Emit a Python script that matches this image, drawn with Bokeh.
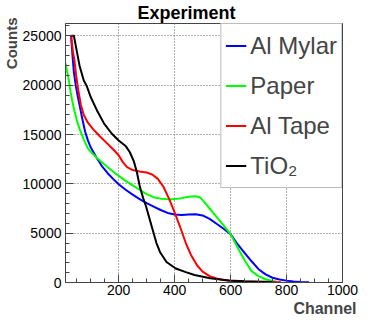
from bokeh.plotting import figure
from bokeh.models import Range1d, FixedTicker, Title
from bokeh.embed import file_html
from bokeh.resources import INLINE

# ---- data ----
mylar_x = [30, 35, 40, 47, 55, 60, 70, 80, 90, 100, 120, 140, 160, 180, 200, 225, 250, 275, 300,
           325, 350, 375, 400, 425, 450, 475, 500, 525, 550, 575, 600, 625, 650, 675, 700, 725,
           750, 775, 800, 825, 850, 880]
mylar_y = [25000, 23000, 21300, 19900, 18700, 18000, 16600, 15300, 14400, 13700, 12700, 11800,
           11100, 10500, 9950, 9400, 8900, 8450, 8050, 7700, 7350, 7050, 6900, 6850, 6880, 6920,
           6800, 6450, 5950, 5450, 4900, 3880, 3000, 2150, 1350, 820, 480, 310, 190, 110, 60, 30]

paper_x = [10, 20, 30, 40, 50, 60, 75, 90, 105, 120, 140, 160, 180, 200, 225, 250, 275, 300, 325,
           350, 375, 400, 425, 450, 475, 490, 505, 525, 550, 575, 600, 625, 650, 675, 700, 725,
           750, 765]
paper_y = [22200, 20800, 19000, 17600, 16500, 15600, 14500, 13600, 13100, 12700, 12200, 11700,
           11250, 10800, 10300, 9850, 9400, 8950, 8650, 8500, 8450, 8450, 8550, 8700, 8750, 8650,
           8200, 7500, 6650, 5800, 4900, 3550, 2250, 1150, 650, 330, 160, 80]

tape_x = [30, 36, 42, 48, 55, 65, 75, 90, 110, 130, 155, 180, 200, 215, 230, 250, 275, 300, 320,
          340, 360, 380, 400, 420, 440, 460, 480, 500, 525, 550, 575, 600, 650, 700, 750, 780]
tape_y = [25000, 23500, 22500, 21000, 19600, 18000, 17000, 16200, 15500, 14900, 14200, 13500,
          12900, 12200, 11700, 11400, 11250, 11150, 10950, 10500, 9700, 8500, 7100, 5600, 4000,
          2700, 1750, 1100, 650, 400, 250, 170, 100, 70, 40, 20]

tio2_x = [30, 40, 50, 60, 75, 86, 100, 125, 148, 175, 200, 226, 240, 254, 265, 276, 287, 298,
          310, 321, 335, 348, 371, 404, 440, 471, 527, 594, 650, 700, 750]
tio2_y = [25000, 25000, 23500, 22000, 20500, 19900, 18800, 17300, 16100, 15100, 14400, 13800,
          13200, 12300, 11200, 9670, 8600, 7700, 6500, 5390, 4000, 3070, 2080, 1420, 1050, 760,
          430, 200, 120, 80, 40]

series_names = ["Al Mylar", "Paper", "Al Tape", "TiO\u2082"]
series_colors = ["#0000ff", "#00ff00", "#ff0000", "#000000"]

x_major = [200, 400, 600, 800, 1000]
x_minor = [50, 100, 150, 250, 300, 350, 450, 500, 550, 650, 700, 750, 850, 900, 950]
y_major = [0, 5000, 10000, 15000, 20000, 25000]
y_minor = [v for v in range(1000, 26001, 1000) if v % 5000 != 0]

X0, X1 = 10, 1000
Y0, Y1 = 0, 26250

FONT = "Liberation Sans"

p = figure(width=358, height=316, x_range=Range1d(X0, X1), y_range=Range1d(Y0, Y1),
           output_backend="svg", toolbar_location=None,
           min_border_left=62, min_border_right=16, min_border_top=23, min_border_bottom=30)
p.background_fill_color = "white"
p.border_fill_color = "white"
p.outline_line_color = "#444444"
p.outline_line_width = 1

p.title.text = "Experiment"
p.title.align = "left"
p.title.offset = 72
p.title.standoff = 1
p.title.text_font = FONT
p.title.text_font_size = "18px"
p.title.text_font_style = "bold"
p.title.text_color = "black"

for ax, maj, mnr in ((p.xaxis, x_major, x_minor), (p.yaxis, y_major, y_minor)):
    ax.ticker = FixedTicker(ticks=maj, minor_ticks=mnr)
    ax.major_tick_in = 8
    ax.major_tick_out = 0
    ax.minor_tick_in = 4
    ax.minor_tick_out = 0
    ax.axis_line_color = "#444444"
    ax.major_tick_line_color = "#444444"
    ax.minor_tick_line_color = "#444444"
    ax.major_label_text_font = FONT
    ax.major_label_text_font_size = "14px"
    ax.major_label_text_color = "black"
p.xaxis.major_label_standoff = 2
p.yaxis.major_label_standoff = 4

p.add_layout(Title(text="Counts", align="right", standoff=0, offset=-6, text_font=FONT,
                   text_font_size="15px", text_font_style="bold"), "left")
p.add_layout(Title(text="Channel", align="right", standoff=0, offset=-14, text_font=FONT,
                   text_font_size="16px", text_font_style="bold"), "below")

for g in (p.xgrid, p.ygrid):
    g.grid_line_color = "#666666"
    g.grid_line_dash = "1 2"
    g.grid_line_width = 1

data = [(mylar_x, mylar_y), (paper_x, paper_y), (tape_x, tape_y), (tio2_x, tio2_y)]
for (xs, ys), name, col in zip(data, series_names, series_colors):
    p.line(xs, ys, line_color=col, line_width=2, line_join="round", legend_label=name)

lg = p.legend[0]
lg.location = "top_right"
lg.margin = 0
lg.padding = 4
lg.spacing = 5
lg.glyph_width = 21
lg.glyph_height = 35
lg.label_height = 35
lg.label_standoff = 4
lg.label_text_font = FONT
lg.label_text_font_size = "24px"
lg.border_line_color = "#777777"
lg.border_line_width = 1.5
lg.background_fill_color = "white"
lg.background_fill_alpha = 1.0

open("out.html", "w").write(file_html(p, INLINE))
